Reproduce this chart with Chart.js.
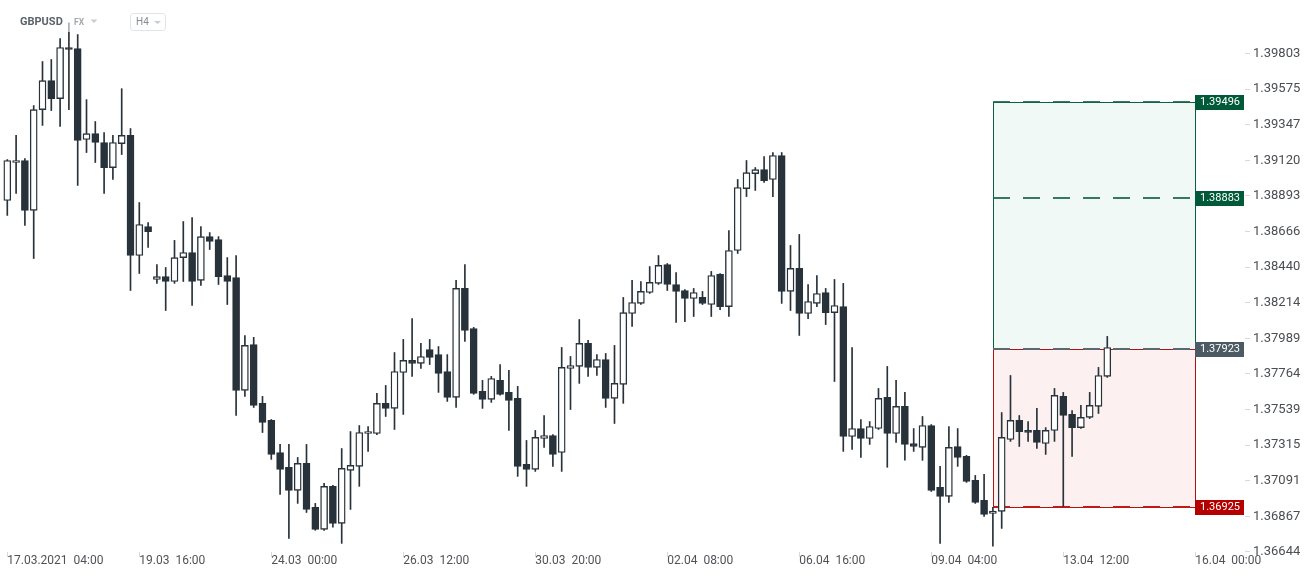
<!DOCTYPE html>
<html>
<head>
<meta charset="utf-8">
<title>GBPUSD H4</title>
<script src="https://cdn.jsdelivr.net/npm/chart.js@4.4.1/dist/chart.umd.min.js"></script>
<style>
  html, body { margin: 0; padding: 0; background: #fff; }
  canvas { display: block; }
</style>
</head>
<body>
<canvas id="grafico" width="1312" height="577"></canvas>
<script>
// Velas H4 GBPUSD (una por cada 4 horas desde 17.03.2021 04:00)
const opens = [
  1.38864, 1.39106, 1.39119, 1.38801, 1.39444, 1.39630, 1.39514, 1.39842, 1.39835, 1.39253,
  1.39291, 1.39234, 1.39074, 1.39227, 1.39279, 1.38514, 1.38698, 1.38362, 1.38380, 1.38349,
  1.38501, 1.38533, 1.38356, 1.38634, 1.38616, 1.38387, 1.38374, 1.37660, 1.37950, 1.37578,
  1.37470, 1.37268, 1.37175, 1.37030, 1.37200, 1.36923, 1.36785, 1.37055, 1.36823, 1.37156,
  1.37181, 1.37388, 1.37388, 1.37578, 1.37546, 1.37773, 1.37849, 1.37830, 1.37918, 1.37886,
  1.37779, 1.37616, 1.38305, 1.38051, 1.37653, 1.37603, 1.37723, 1.37647, 1.37609, 1.37194,
  1.37162, 1.37356, 1.37375, 1.37268, 1.37798, 1.37811, 1.37957, 1.37805, 1.37855, 1.37609,
  1.37698, 1.38146, 1.38210, 1.38279, 1.38337, 1.38457, 1.38330, 1.38292, 1.38241, 1.38248,
  1.38203, 1.38394, 1.38190, 1.38546, 1.38940, 1.39035, 1.39061, 1.38998, 1.39151, 1.38286,
  1.38432, 1.38146, 1.38210, 1.38279, 1.38152, 1.38190, 1.37369, 1.37419, 1.37356, 1.37419,
  1.37616, 1.37388, 1.37559, 1.37325, 1.37300, 1.37438, 1.37049, 1.36992, 1.37306, 1.37244,
  1.37093, 1.36967, 1.36885, 1.36898, 1.37350, 1.37470, 1.37407, 1.37407, 1.37325, 1.37407,
  1.37622, 1.37508, 1.37425, 1.37489, 1.37559, 1.37748
];
const highs = [
  1.39125, 1.39279, 1.39131, 1.39470, 1.39752, 1.39765, 1.39899, 1.40001, 1.39925, 1.39508,
  1.39368, 1.39298, 1.39279, 1.39578, 1.39323, 1.38851, 1.38724, 1.38457, 1.38438, 1.38610,
  1.38730, 1.38756, 1.38698, 1.38660, 1.38634, 1.38501, 1.38514, 1.38007, 1.37995, 1.37622,
  1.37476, 1.37319, 1.37319, 1.37237, 1.37319, 1.36948, 1.37074, 1.37061, 1.37293, 1.37400,
  1.37438, 1.37432, 1.37641, 1.37691, 1.37899, 1.37982, 1.38114, 1.37957, 1.37982, 1.37937,
  1.37886, 1.38356, 1.38457, 1.38058, 1.37723, 1.37748, 1.37823, 1.37786, 1.37685, 1.37344,
  1.37407, 1.37501, 1.37381, 1.37931, 1.37874, 1.38108, 1.37976, 1.37886, 1.37893, 1.37944,
  1.38248, 1.38356, 1.38349, 1.38444, 1.38514, 1.38463, 1.38406, 1.38298, 1.38305, 1.38286,
  1.38413, 1.38400, 1.38673, 1.38998, 1.39119, 1.39074, 1.39144, 1.39170, 1.39170, 1.38578,
  1.38648, 1.38330, 1.38387, 1.38305, 1.38362, 1.38337, 1.37931, 1.37476, 1.37463, 1.37672,
  1.37811, 1.37723, 1.37647, 1.37419, 1.37495, 1.37444, 1.37181, 1.37432, 1.37419, 1.37250,
  1.37124, 1.37130, 1.36923, 1.37520, 1.37754, 1.37501, 1.37463, 1.37546, 1.37425, 1.37672,
  1.37647, 1.37533, 1.37565, 1.37647, 1.37805, 1.38001
];
const lows = [
  1.38769, 1.38909, 1.38705, 1.38495, 1.39343, 1.39438, 1.39336, 1.39444, 1.38960, 1.39170,
  1.39106, 1.38909, 1.38998, 1.39157, 1.38292, 1.38400, 1.38565, 1.38337, 1.38165, 1.38337,
  1.38349, 1.38197, 1.38324, 1.38552, 1.38330, 1.38203, 1.37501, 1.37622, 1.37552, 1.37394,
  1.37225, 1.37005, 1.36728, 1.36948, 1.36891, 1.36779, 1.36779, 1.36798, 1.36697, 1.36910,
  1.37055, 1.37275, 1.37381, 1.37495, 1.37413, 1.37508, 1.37748, 1.37798, 1.37823, 1.37647,
  1.37590, 1.37552, 1.37969, 1.37635, 1.37546, 1.37584, 1.37629, 1.37407, 1.37118, 1.37055,
  1.37149, 1.37300, 1.37181, 1.37149, 1.37539, 1.37704, 1.37748, 1.37754, 1.37552, 1.37451,
  1.37578, 1.38064, 1.38203, 1.38273, 1.38330, 1.38292, 1.38089, 1.38095, 1.38127, 1.38203,
  1.38127, 1.38171, 1.38127, 1.38527, 1.38889, 1.38928, 1.38979, 1.38889, 1.38210, 1.38165,
  1.38007, 1.38114, 1.38190, 1.38076, 1.37716, 1.37275, 1.37287, 1.37237, 1.37319, 1.37413,
  1.37175, 1.37331, 1.37219, 1.37275, 1.37219, 1.37023, 1.36697, 1.36954, 1.37181, 1.37080,
  1.36948, 1.36866, 1.36679, 1.36791, 1.37338, 1.37306, 1.37338, 1.37293, 1.37256, 1.37338,
  1.36929, 1.37244, 1.37419, 1.37482, 1.37514, 1.37742
];
const closes = [
  1.39119, 1.39119, 1.38801, 1.39444, 1.39630, 1.39514, 1.39842, 1.39829, 1.39247, 1.39291,
  1.39234, 1.39074, 1.39234, 1.39279, 1.38514, 1.38711, 1.38666, 1.38380, 1.38349, 1.38501,
  1.38533, 1.38349, 1.38634, 1.38603, 1.38380, 1.38349, 1.37660, 1.37944, 1.37565, 1.37457,
  1.37256, 1.37162, 1.37030, 1.37200, 1.36910, 1.36785, 1.37055, 1.36823, 1.37168, 1.37187,
  1.37394, 1.37400, 1.37578, 1.37546, 1.37779, 1.37849, 1.37830, 1.37874, 1.37868, 1.37767,
  1.37616, 1.38305, 1.38039, 1.37641, 1.37603, 1.37735, 1.37635, 1.37597, 1.37181, 1.37162,
  1.37363, 1.37375, 1.37256, 1.37805, 1.37817, 1.37957, 1.37805, 1.37855, 1.37609, 1.37704,
  1.38152, 1.38216, 1.38286, 1.38343, 1.38451, 1.38330, 1.38286, 1.38241, 1.38279, 1.38210,
  1.38387, 1.38190, 1.38546, 1.38947, 1.39042, 1.39061, 1.38991, 1.39151, 1.38286, 1.38432,
  1.38146, 1.38222, 1.38273, 1.38152, 1.38197, 1.37369, 1.37419, 1.37356, 1.37432, 1.37609,
  1.37388, 1.37559, 1.37319, 1.37306, 1.37438, 1.37030, 1.36992, 1.37300, 1.37237, 1.37086,
  1.36954, 1.36879, 1.36900, 1.37363, 1.37470, 1.37400, 1.37394, 1.37331, 1.37407, 1.37628,
  1.37501, 1.37425, 1.37489, 1.37565, 1.37754, 1.37931
];

// eje de tiempo: una etiqueta cada 15 velas
const xTickIdx = [0, 15, 30, 45, 60, 75, 90, 105, 120, 135];
const xTickLabels = ['17.03.2021  04:00', '19.03  16:00', '24.03  00:00', '26.03  12:00', '30.03  20:00',
                     '02.04  08:00', '06.04  16:00', '09.04  04:00', '13.04  12:00', '16.04  00:00'];

// eje de precios
const yTickLabels = ['1.39803', '1.39575', '1.39347', '1.39120', '1.38893', '1.38666', '1.38440', '1.38214',
                     '1.37989', '1.37764', '1.37539', '1.37315', '1.37091', '1.36867', '1.36644'];
const yTicks = yTickLabels.map(Number);

// herramienta de posición larga
const toolFrom = 112;
const toolTo = 135;
const takeProfit = 1.39496;
const target = 1.38883;
const entry = 1.37923;
const stopLoss = 1.36925;

const oscuro = '#27323a';

const cuerpos = opens.map((o, i) => ({ x: i, y: [o, closes[i]] }));
const mechas = lows.map((l, i) => ({ x: i, y: [l, highs[i]] }));

const posicion = {
  id: 'posicion',
  beforeDatasetsDraw(chart) {
    const { ctx, scales: { x, y } } = chart;
    const x0 = Math.round(x.getPixelForValue(toolFrom));
    const x1 = Math.round(x.getPixelForValue(toolTo));
    const yTp = Math.round(y.getPixelForValue(takeProfit));
    const yT2 = Math.round(y.getPixelForValue(target));
    const yEn = Math.round(y.getPixelForValue(entry));
    const ySl = Math.round(y.getPixelForValue(stopLoss));
    ctx.save();
    ctx.fillStyle = 'rgba(0,150,90,0.06)';
    ctx.fillRect(x0, yTp, x1 - x0, yEn - yTp);
    ctx.fillStyle = 'rgba(220,0,0,0.06)';
    ctx.fillRect(x0, yEn, x1 - x0, ySl - yEn);
    ctx.lineWidth = 1;
    ctx.strokeStyle = '#0e5e40';
    ctx.strokeRect(x0 + 0.5, yTp + 0.5, x1 - x0, yEn - yTp);
    ctx.strokeStyle = '#b31212';
    ctx.strokeRect(x0 + 0.5, yEn + 0.5, x1 - x0, ySl - yEn);

    ctx.lineWidth = 2;
    ctx.setLineDash([17, 13]);
    const linea = (yy, color) => {
      ctx.strokeStyle = color;
      ctx.beginPath();
      ctx.moveTo(x0, yy);
      ctx.lineTo(x1 - 5, yy);
      ctx.stroke();
    };
    linea(yTp, 'rgba(20,100,70,0.85)');
    linea(yT2, 'rgba(20,100,70,0.85)');
    linea(yEn, '#5b6870');
    linea(ySl, '#c21a1a');
    ctx.restore();
  },
  afterDatasetsDraw(chart) {
    const { ctx, scales: { x, y } } = chart;
    const x1 = Math.round(x.getPixelForValue(toolTo));
    const cajas = [
      [takeProfit, '#005a3a'],
      [target, '#005a3a'],
      [entry, '#4b5a63'],
      [stopLoss, '#b50000']
    ];
    ctx.save();
    ctx.font = '11px Roboto';
    ctx.textBaseline = 'middle';
    cajas.forEach(([v, color]) => {
      const yy = Math.round(y.getPixelForValue(v));
      ctx.fillStyle = color;
      ctx.fillRect(x1, yy - 7, 49, 15);
      ctx.fillStyle = '#ffffff';
      ctx.fillText(v.toFixed(5), x1 + 5, yy + 0.5);
    });
    ctx.restore();
  }
};

const cabecera = {
  id: 'cabecera',
  afterDraw(chart) {
    const { ctx } = chart;
    ctx.save();
    ctx.fillStyle = 'rgba(255,255,255,0.6)';
    ctx.fillRect(14, 12, 160, 20);
    ctx.textBaseline = 'middle';
    ctx.font = 'bold 11px Roboto';
    ctx.fillStyle = '#5a636b';
    ctx.fillText('GBPUSD', 20, 22);
    ctx.font = 'bold 8.5px Roboto';
    ctx.fillStyle = '#a2a8ad';
    ctx.fillText('FX', 74, 22.5);
    ctx.fillStyle = '#c8ccd0';
    ctx.beginPath();
    ctx.moveTo(90.5, 19.5); ctx.lineTo(97.5, 19.5); ctx.lineTo(94, 23); ctx.closePath();
    ctx.fill();

    ctx.fillStyle = '#ffffff';
    ctx.strokeStyle = '#e1e3e5';
    ctx.lineWidth = 1;
    ctx.beginPath();
    ctx.roundRect(130.5, 13.5, 35, 17, 3);
    ctx.fill();
    ctx.stroke();
    ctx.font = '10px Roboto';
    ctx.fillStyle = '#868c92';
    ctx.fillText('H4', 136, 22.5);
    ctx.fillStyle = '#c8ccd0';
    ctx.beginPath();
    ctx.moveTo(154, 21); ctx.lineTo(161, 21); ctx.lineTo(157.5, 24); ctx.closePath();
    ctx.fill();
    ctx.restore();
  }
};

Chart.defaults.font.family = 'Roboto';

const ctx = document.getElementById('grafico').getContext('2d');
window.grafico = new Chart(ctx, {
  type: 'bar',
  data: {
    datasets: [{
      label: 'Cuerpo',
      data: cuerpos,
      grouped: false,
      order: 0,
      barThickness: 7,
      borderSkipped: false,
      borderWidth: 1.4,
      borderColor: oscuro,
      backgroundColor: (c) => closes[c.dataIndex] >= opens[c.dataIndex] ? '#ffffff' : oscuro
    }, {
      label: 'Mecha',
      data: mechas,
      grouped: false,
      order: 1,
      barThickness: 1,
      borderWidth: 0,
      backgroundColor: oscuro
    }]
  },
  options: {
    responsive: false,
    animation: false,
    events: [],
    layout: { padding: 0 },
    plugins: {
      legend: { display: false },
      tooltip: { enabled: false }
    },
    scales: {
      x: {
        type: 'linear',
        offset: false,
        min: -0.83,
        max: 140.65,
        afterBuildTicks: (s) => { s.ticks = xTickIdx.map(v => ({ value: v })); },
        afterFit: (s) => { s.height = 25; s.paddingLeft = 0; s.paddingRight = 0; },
        grid: { offset: false, drawOnChartArea: false, drawTicks: true, tickLength: 5, color: '#d8d8d8' },
        border: { display: false },
        ticks: {
          autoSkip: false,
          maxRotation: 0,
          align: 'start',
          padding: -3,
          color: '#4f5358',
          font: { size: 12 },
          callback: (v, i) => xTickLabels[i]
        }
      },
      y: {
        type: 'logarithmic',
        position: 'right',
        min: 1.36643,
        max: 1.40147,
        bounds: 'data',
        beginAtZero: false,
        afterBuildTicks: (s) => { s.ticks = yTicks.map(v => ({ value: v })); },
        afterFit: (s) => { s.width = 67; s.paddingTop = 0; s.paddingBottom = 0; },
        grid: { drawOnChartArea: false, drawTicks: true, tickLength: 5, color: '#d8d8d8' },
        border: { display: false },
        ticks: {
          padding: 3,
          color: '#4a4e52',
          font: { size: 13 },
          callback: (v, i) => yTickLabels[i]
        }
      }
    }
  },
  plugins: [posicion, cabecera]
});
</script>
</body>
</html>
